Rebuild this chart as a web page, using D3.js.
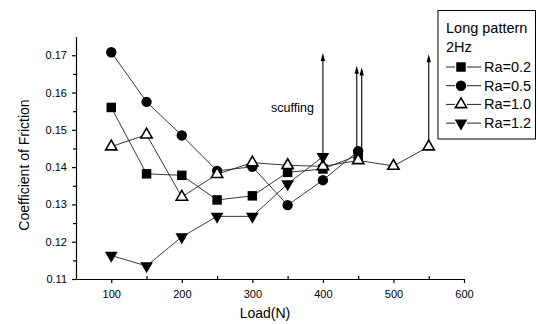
<!DOCTYPE html>
<html><head><meta charset="utf-8">
<script src="https://cdn.jsdelivr.net/npm/d3@7"></script>
<style>body{margin:0;background:#fff}svg{display:block;font-family:Arial,"Liberation Sans",sans-serif}</style>
</head><body><svg id="c" width="538" height="324"></svg>
<script>
const loads = [100,150,200,250,300,350,400,450,500,550];
const ra02 = [0.156,0.1382,0.1378,0.1312,0.1323,0.1386,0.1395,0.1432];
const ra05 = [0.1708,0.1575,0.1485,0.1390,0.1401,0.1298,0.1365,0.1443];
const ra10 = [0.1455,0.1487,0.1320,0.1381,0.1412,0.1405,0.1402,0.1418,0.1403,0.1455];
const ra12 = [0.1163,0.1135,0.1213,0.1268,0.1268,0.1355,0.1428];
const seriesNames = ["Ra=0.2","Ra=0.5","Ra=1.0","Ra=1.2"];
const seriesSymbols = ["square","circle","triangle","triangleDown"];
const xTicks = [100,200,300,400,500,600];
const yTicks = [0.11,0.12,0.13,0.14,0.15,0.16,0.17];
const arrowX = [400,448,455,550];
const arrowFrom = [0.1428,0.1432,0.1443,0.1455];
const arrowTo = [0.1706,0.1672,0.1667,0.1703];
const legendTitle = ["Long pattern","2Hz"];

const svg = d3.select("#c");
const x = d3.scaleLinear().domain([50,600]).range([76,464]);
const y = d3.scaleLinear().domain([0.11,0.175]).range([279,36.6]);

// axes
const gx = svg.append("g").attr("transform","translate(0,279)")
  .call(d3.axisBottom(x).tickValues(xTicks).tickFormat(d3.format("d")).tickSize(4).tickSizeOuter(0));
svg.append("g").attr("transform","translate(0,279)")
  .call(d3.axisBottom(x).tickValues(d3.range(150,600,100)).tickFormat("").tickSize(-3).tickSizeOuter(0))
  .select(".domain").remove();
const gy = svg.append("g").attr("transform","translate(76,0)")
  .call(d3.axisLeft(y).tickValues(yTicks).tickFormat(d3.format(".2f")).tickSize(4).tickSizeOuter(0));
svg.append("g").attr("transform","translate(76,0)")
  .call(d3.axisLeft(y).tickValues(d3.range(0.115,0.175,0.01)).tickFormat("").tickSize(3).tickSizeOuter(0))
  .select(".domain").remove();
svg.selectAll(".domain,.tick line").attr("stroke","#000").attr("stroke-width",1.2);
gx.selectAll("text").attr("font-size",11).attr("font-family","Arial,'Liberation Sans'").attr("dy","1.1em");
gy.selectAll("text").attr("font-size",11).attr("font-family","Arial,'Liberation Sans'").attr("dx","-2");

svg.append("text").attr("x",265).attr("y",318).attr("text-anchor","middle").attr("font-size",14).text("Load(N)");
svg.append("text").attr("transform","translate(29,165) rotate(-90)").attr("text-anchor","middle").attr("font-size",14).text("Coefficient of Friction");

const sym = {
  square: d3.symbol().type(d3.symbolSquare).size(90),
  circle: d3.symbol().type(d3.symbolCircle).size(85),
  triangle: d3.symbol().type(d3.symbolTriangle).size(55),
  triangleDown: d3.symbol().type(d3.symbolTriangle).size(70)
};
function drawMarker(g, t, cx, cy){
  const p = g.append("path").attr("d", sym[t]()).attr("transform", `translate(${cx},${cy})` + (t==="triangleDown"?" rotate(180)":""));
  if(t==="triangle") p.attr("fill","#fff").attr("stroke","#000").attr("stroke-width",1.6);
  else p.attr("fill","#000");
}

// arrows
arrowX.forEach((ax,i)=>{
  const px = x(ax), y0 = y(arrowFrom[i]), y1 = y(arrowTo[i]);
  svg.append("line").attr("x1",px).attr("x2",px).attr("y1",y0).attr("y2",y1+6)
    .attr("stroke","#000").attr("stroke-width",1.1);
  svg.append("path").attr("d",`M${px},${y1} L${px-2.2},${y1+8} L${px+2.2},${y1+8} Z`).attr("fill","#000");
});
svg.append("text").attr("x",271).attr("y",112).attr("font-size",12.5).text("scuffing");

const data = [ra02, ra05, ra10, ra12];
const line = d3.line().x(d=>x(d[0])).y(d=>y(d[1]));
data.forEach((vals,i)=>{
  const pts = vals.map((v,j)=>[loads[j],v]);
  svg.append("path").attr("d",line(pts)).attr("fill","none").attr("stroke","#222").attr("stroke-width",0.9);
});
data.forEach((vals,i)=>{
  const g = svg.append("g");
  vals.forEach((v,j)=>drawMarker(g, seriesSymbols[i], x(loads[j]), y(v)));
});

// legend
const lg = svg.append("g");
lg.append("rect").attr("x",438).attr("y",10.5).attr("width",97.5).attr("height",128.5).attr("fill","#fff").attr("stroke","#000").attr("stroke-width",1);
legendTitle.forEach((t,i)=>lg.append("text").attr("x",446).attr("y",33+i*19).attr("font-size",14.5).text(t));
seriesNames.forEach((n,i)=>{
  const cy = 67+i*18.7;
  lg.append("line").attr("x1",446).attr("x2",455).attr("y1",cy).attr("y2",cy).attr("stroke","#222").attr("stroke-width",1);
  lg.append("line").attr("x1",467).attr("x2",481).attr("y1",cy).attr("y2",cy).attr("stroke","#222").attr("stroke-width",1);
  drawMarker(lg, seriesSymbols[i], 461, cy);
  lg.append("text").attr("x",484).attr("y",cy+5).attr("font-size",14.5).text(n);
});
</script></body></html>
